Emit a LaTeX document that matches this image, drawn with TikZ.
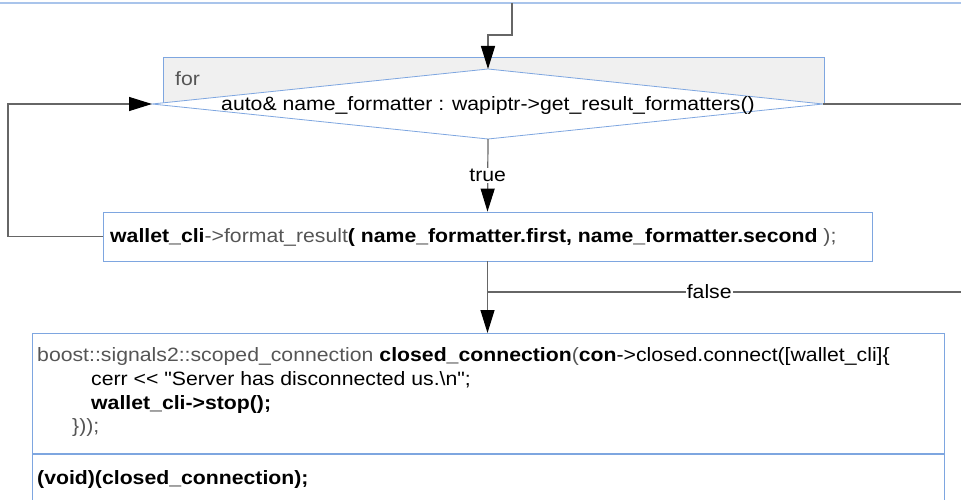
\documentclass[tikz,border=0pt]{standalone}
\usepackage{fontspec}
\setmainfont[FakeStretch=1.1, Ligatures=TeXOff]{Liberation Sans}
\usetikzlibrary{arrows.meta}
\definecolor{bblue}{HTML}{7EA6E0}
\definecolor{lblue}{HTML}{A9C4EB}
\definecolor{gfill}{HTML}{F0F0F0}
\definecolor{gtext}{HTML}{555555}
\definecolor{lcol}{HTML}{666666}
\tikzset{
  conn/.style={draw=lcol, line width=1.2pt},
  arr/.style={conn, -{Triangle[length=23pt,width=14pt,fill=black,color=black]}},
  boxline/.style={draw=bblue, line width=0.8pt},
  txt/.style={inner sep=0pt, anchor=base west, font=\fontsize{19.3}{22}\selectfont},
  lbl/.style={inner sep=1pt, fill=white, font=\fontsize{19.3}{22}\selectfont},
}
\begin{document}
\begin{tikzpicture}[x=1pt,y=-1pt]
\useasboundingbox (0,0) rectangle (961,500);
\clip (0,0) rectangle (961,500);
% top edge of previous box
\draw[draw=lblue, line width=1.5pt] (-5,-40) rectangle (966,3);
\coordinate (prevB) at (512,3);
% for box
\draw[boxline, fill=gfill] (163,104) -- (163,57) -- (824,57) -- (824,104);
\node[txt, text=gtext] (forlbl) at (175,86) {for};
% diamond
\coordinate (diaT) at (488,69);
\coordinate (diaL) at (152,104);
\coordinate (diaR) at (823,104);
\coordinate (diaB) at (488,139);
\draw[boxline, fill=white] (diaT) -- (diaR) -- (diaB) -- (diaL) -- cycle;
\node[txt, anchor=base] (diatext) at (488,111) {auto\& name\_formatter : wapiptr->get\_result\_formatters()};
% format box
\node[boxline, rectangle, minimum width=769pt, minimum height=49pt, inner sep=0pt] (fmt) at (487.5,236.5) {};
\node[txt] (fmttext) at (110,242) {\textbf{wallet\_cli}\textcolor{gtext}{->format\_result}\textbf{( name\_formatter.first, name\_formatter.second }\textcolor{gtext}{);}};
% bottom box
\node[boxline, rectangle, minimum width=912pt, minimum height=120pt, inner sep=0pt, anchor=north west] (bb) at (32,333) {};
\node[boxline, rectangle, minimum width=912pt, minimum height=80pt, inner sep=0pt, anchor=north west] (bb2) at (bb.south west) {};
\node[txt] (l1) at (37,361) {\textcolor{gtext}{boost::signals2::scoped\_connection} \textbf{closed\_connection}\textcolor{gtext}{(}\textbf{con}->closed.connect([wallet\_cli]\{};
\node[txt] (l2) at (91,385) {cerr << "Server has disconnected us.\textbackslash n";};
\node[txt] (l3) at (91,409) {\textbf{wallet\_cli->stop();}};
\node[txt, text=gtext] (l4) at (72,432) {\}));};
\node[txt] (l5) at (37,484) {\textbf{(void)(closed\_connection);}};
% connectors
\coordinate (tbend) at (512,35);
\draw[arr] (prevB) -- (tbend) -| (diaT);
\draw[arr] (fmt.west) -- (8,236.5) |- (diaL);
\draw[conn] (diaR) -- (970,104);
\draw[arr] (diaB) -- node[lbl, pos=0.5] (truelbl) {true} (fmt.north);
\draw[arr] (fmt.south) -- (bb.north -| fmt.south);
\draw[conn] (970,292) -- node[lbl, pos=0.541] (falselbl) {false} (488,292);
\end{tikzpicture}
\end{document}
